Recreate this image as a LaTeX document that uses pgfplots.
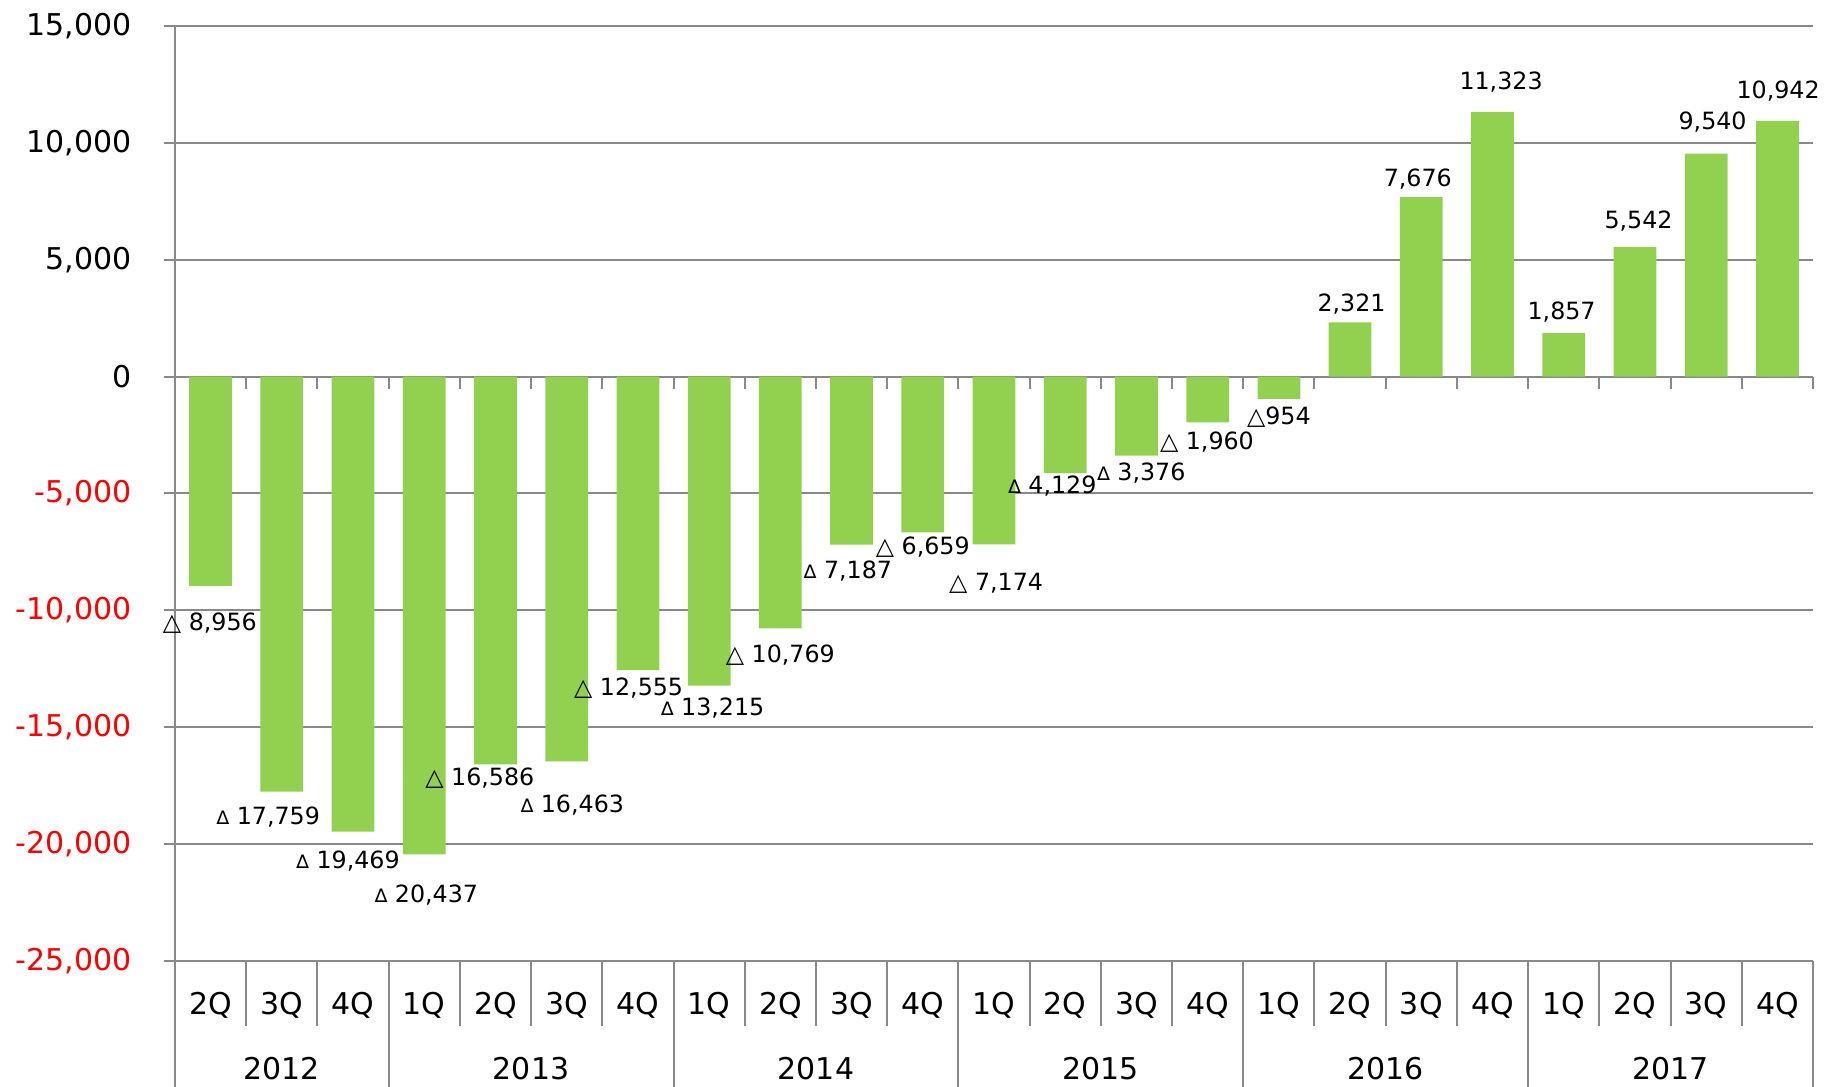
\documentclass[border=0pt]{standalone}
\usepackage{fontspec}
\setmainfont{DejaVu Sans}
\usepackage{pgfplots}
\pgfplotsset{compat=1.18}
\usepackage{pgfplotstable}
\definecolor{barg}{HTML}{92D050}
\definecolor{gridg}{HTML}{898989}
\definecolor{negred}{HTML}{FF0000}
\protected\def\bt{{\fontsize{9.5}{10}\selectfont △}}
\protected\def\st{{\fontsize{7.5}{8}\selectfont ∆}}

\pgfplotstableread[col sep=semicolon]{
x;y;lab
-0.01;-10475;\bt\ 8,956
0.81;-18775;\st\ 17,759
1.93;-20675;\st\ 19,469
3.03;-22125;\st\ 20,437
3.78;-17125;\bt\ 16,586
5.08;-18275;\st\ 16,463
5.87;-13275;\bt\ 12,555
7.05;-14125;\st\ 13,215
8.00;-11875;\bt\ 10,769
8.95;-8275;\st\ 7,187
10.00;-7225;\bt\ 6,659
11.03;-8775;\bt\ 7,174
11.82;-4625;\st\ 4,129
13.07;-4075;\st\ 3,376
13.99;-2725;\bt\ 1,960
15.00;-1675;\bt954
16.02;3175;2,321
16.95;8525;7,676
18.12;12675;11,323
18.97;2825;1,857
20.05;6725;5,542
21.09;10925;9,540
22.01;12275;10,942
}\labtab

\begin{document}
\begin{tikzpicture}
\begin{axis}[name=ax, scale only axis, width=655.2pt, height=374pt,
  xmin=-0.5, xmax=22.5, ymin=-25000, ymax=15000,
  axis line style={draw=none},
  major tick length=0pt,
  ytick={-25000,-20000,-15000,-10000,-5000,0,5000,10000,15000},
  yticklabels={{\color{negred}-25,000},{\color{negred}-20,000},{\color{negred}-15,000},{\color{negred}-10,000},{\color{negred}-5,000},0,{5,000},{10,000},{15,000}},
  ymajorgrids, grid style={gridg, line width=0.8pt},
  ytick style={draw=none},
  yticklabel style={anchor=east, inner sep=0pt, xshift=-17.2pt, font=\fontsize{12}{14}\selectfont},
  xtick={0,...,22},
  xticklabels={2Q,3Q,4Q,1Q,2Q,3Q,4Q,1Q,2Q,3Q,4Q,1Q,2Q,3Q,4Q,1Q,2Q,3Q,4Q,1Q,2Q,3Q,4Q},
  xtick style={draw=none},
  xticklabel style={anchor=center, inner sep=0pt, yshift=-17.6pt, font=\fontsize{12}{14}\selectfont},
  clip=false,
]
% y tick stubs
\pgfplotsinvokeforeach{-25000,-20000,-15000,-10000,-5000,0,5000,10000,15000}{
  \draw[gridg, line width=0.8pt] (axis cs:-0.5,#1) -- ([xshift=-4.4pt]axis cs:-0.5,#1);
}
% ticks on the zero line
\pgfplotsinvokeforeach{0,...,22}{
  \draw[gridg, line width=0.8pt] (axis cs:#1.5,0) -- ([yshift=-4.8pt]axis cs:#1.5,0);
}
% quarter separators
\pgfplotsinvokeforeach{0,...,21}{
  \draw[gridg, line width=0.8pt] (axis cs:#1.5,-25000) -- ([yshift=-26pt]axis cs:#1.5,-25000);
}
% year separators and left axis
\pgfplotsinvokeforeach{2.5,6.5,10.5,14.5,18.5,22.5}{
  \draw[gridg, line width=0.8pt] (axis cs:#1,-25000) -- ([yshift=-50.4pt]axis cs:#1,-25000);
}
\draw[gridg, line width=0.8pt] (axis cs:-0.5,15000) -- ([yshift=-50.4pt]axis cs:-0.5,-25000);

\addplot[ybar, bar width=0.6, fill=barg, draw=none] coordinates {
(0,-8956) (1,-17759) (2,-19469) (3,-20437) (4,-16586) (5,-16463) (6,-12555)
(7,-13215) (8,-10769) (9,-7187) (10,-6659) (11,-7174) (12,-4129) (13,-3376)
(14,-1960) (15,-954) (16,2321) (17,7676) (18,11323) (19,1857) (20,5542)
(21,9540) (22,10942)};

\addplot[only marks, mark=none, nodes near coords, point meta=explicit symbolic,
  every node near coord/.append style={anchor=base, yshift=-3.5pt, inner sep=0pt,
    font=\fontsize{9.5}{11}\selectfont, text=black}]
  table[x=x, y=y, meta=lab]{\labtab};

\node[font=\fontsize{12}{14}\selectfont, anchor=center] at ([yshift=-43.2pt]axis cs:1,-25000) {2012};
\node[font=\fontsize{12}{14}\selectfont, anchor=center] at ([yshift=-43.2pt]axis cs:4.5,-25000) {2013};
\node[font=\fontsize{12}{14}\selectfont, anchor=center] at ([yshift=-43.2pt]axis cs:8.5,-25000) {2014};
\node[font=\fontsize{12}{14}\selectfont, anchor=center] at ([yshift=-43.2pt]axis cs:12.5,-25000) {2015};
\node[font=\fontsize{12}{14}\selectfont, anchor=center] at ([yshift=-43.2pt]axis cs:16.5,-25000) {2016};
\node[font=\fontsize{12}{14}\selectfont, anchor=center] at ([yshift=-43.2pt]axis cs:20.5,-25000) {2017};
\end{axis}
\pgfresetboundingbox
\path[use as bounding box] ([shift={(-70pt,-50.4pt)}]ax.south west) rectangle ([shift={(7.6pt,10.4pt)}]ax.north east);
\end{tikzpicture}
\end{document}
